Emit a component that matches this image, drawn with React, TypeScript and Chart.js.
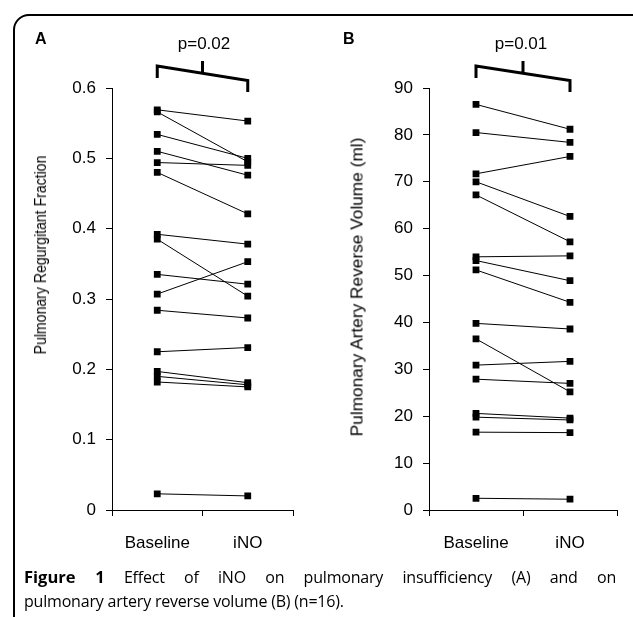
import React, { useEffect, useRef } from "react";
import { Chart, registerables } from "chart.js";

Chart.register(...registerables);

const categories = ["Baseline", "iNO"];

const fractionBaseline = [0.569, 0.566, 0.534, 0.51, 0.494, 0.48, 0.392, 0.385, 0.335, 0.307, 0.284, 0.225, 0.197, 0.19, 0.182, 0.023];
const fractionINO = [0.553, 0.495, 0.5, 0.476, 0.49, 0.421, 0.378, 0.304, 0.321, 0.353, 0.273, 0.231, 0.181, 0.178, 0.175, 0.02];
const fractionTicks = [0, 0.1, 0.2, 0.3, 0.4, 0.5, 0.6];
const fractionTickLabels = ["0", "0.1", "0.2", "0.3", "0.4", "0.5", "0.6"];

const volumeBaseline = [86.5, 80.5, 71.7, 70.0, 67.2, 54.0, 53.2, 51.2, 39.8, 36.5, 30.9, 27.9, 20.6, 19.8, 16.6, 2.5];
const volumeINO = [81.2, 78.4, 75.4, 62.6, 57.2, 54.2, 48.9, 44.3, 38.6, 25.2, 31.7, 27.0, 19.6, 19.2, 16.5, 2.3];
const volumeTicks = [0, 10, 20, 30, 40, 50, 60, 70, 80, 90];
const volumeTickLabels = ["0", "10", "20", "30", "40", "50", "60", "70", "80", "90"];

const pValueA = "p=0.02";
const pValueB = "p=0.01";

const FONT = "'Liberation Sans', Arial, sans-serif";
const CAPTION_FONT = "'Open Sans', 'Noto Sans', sans-serif";

const bracketPlugin = {
  id: "bracket",
  afterDraw(chart: any) {
    const { ctx, chartArea } = chart;
    const xs = chart.scales.x;
    const x0 = xs.getPixelForValue(0);
    const x1 = xs.getPixelForValue(1);
    const top = chartArea.top;
    const yL = top - 22;
    const yR = top - 7.5;
    const xm = (x0 + x1) / 2;
    const ym = yL + ((yR - yL) * (xm - x0)) / (x1 - x0);
    ctx.save();
    ctx.strokeStyle = "#000";
    ctx.lineWidth = 3;
    ctx.lineJoin = "miter";
    ctx.beginPath();
    ctx.moveTo(x0, top - 10);
    ctx.lineTo(x0, yL);
    ctx.lineTo(x1, yR);
    ctx.lineTo(x1, top + 4);
    ctx.moveTo(xm, top - 27);
    ctx.lineTo(xm, ym);
    ctx.stroke();
    ctx.restore();
  },
};

type Props = {
  baseline: number[];
  ino: number[];
  ticks: number[];
  tickLabels: string[];
  left: number;
  top: number;
  width: number;
  height: number;
  axisWidth: number;
  padTop: number;
  padRight: number;
  xAxisHeight: number;
};

function PairedChart(props: Props) {
  const ref = useRef<HTMLCanvasElement>(null);
  useEffect(() => {
    const { baseline, ino, ticks, tickLabels, axisWidth, padTop, padRight, xAxisHeight } = props;
    const datasets = baseline.map((b, i) => ({
      data: [b, ino[i]],
      borderColor: "#000",
      borderWidth: 1,
      pointStyle: "rect",
      pointRadius: 4.8,
      pointBackgroundColor: "#000",
      pointBorderColor: "#000",
      pointBorderWidth: 0,
      fill: false,
      tension: 0,
    }));
    const chart = new Chart(ref.current as HTMLCanvasElement, {
      type: "line",
      data: { labels: categories, datasets: datasets as any },
      options: {
        animation: false,
        responsive: false,
        events: [],
        layout: { padding: { top: padTop, right: padRight, left: 0, bottom: 0 } },
        plugins: { legend: { display: false }, tooltip: { enabled: false } },
        scales: {
          x: {
            type: "category",
            offset: true,
            grid: { offset: true, drawOnChartArea: false, color: "#000", tickLength: 6, lineWidth: 1 },
            border: { color: "#000", width: 1 },
            ticks: { color: "#000", font: { family: FONT, size: 17 }, padding: 17, maxRotation: 0, autoSkip: false },
            afterFit: (s: any) => {
              s.height = xAxisHeight;
            },
          },
          y: {
            min: ticks[0],
            max: ticks[ticks.length - 1],
            afterBuildTicks: (s: any) => {
              s.ticks = ticks.map((v) => ({ value: v }));
            },
            grid: { drawOnChartArea: false, color: "#000", tickLength: 6, lineWidth: 1 },
            border: { color: "#000", width: 1 },
            ticks: {
              color: "#000",
              font: { family: FONT, size: 17 },
              padding: 10,
              autoSkip: false,
              callback: (_v: any, i: number) => tickLabels[i],
            },
            afterFit: (s: any) => {
              s.width = axisWidth;
            },
          },
        },
      } as any,
      plugins: [bracketPlugin],
    });
    return () => chart.destroy();
  }, []);
  return (
    <canvas
      ref={ref}
      width={props.width}
      height={props.height}
      style={{ position: "absolute", left: props.left, top: props.top, width: props.width, height: props.height }}
    />
  );
}

const abs = (s: React.CSSProperties): React.CSSProperties => ({ position: "absolute", whiteSpace: "nowrap", ...s });

export default function App() {
  return (
    <div style={{ position: "fixed", left: 0, top: 0, width: 633, height: 617, overflow: "hidden", background: "#fff" }}>
      <div
        style={{
          position: "absolute",
          left: 13,
          top: 14,
          width: 640,
          height: 700,
          border: "2px solid #000",
          borderRadius: 16,
          boxSizing: "border-box",
        }}
      />
      <PairedChart
        baseline={fractionBaseline}
        ino={fractionINO}
        ticks={fractionTicks}
        tickLabels={fractionTickLabels}
        left={0}
        top={30}
        width={330}
        height={540}
        axisWidth={112}
        padTop={58}
        padRight={37}
        xAxisHeight={60}
      />
      <PairedChart
        baseline={volumeBaseline}
        ino={volumeINO}
        ticks={volumeTicks}
        tickLabels={volumeTickLabels}
        left={330}
        top={30}
        width={303}
        height={540}
        axisWidth={99}
        padTop={58}
        padRight={16}
        xAxisHeight={60}
      />
      <div style={abs({ left: 35, top: 31, fontFamily: FONT, fontWeight: "bold", fontSize: 16, lineHeight: "16px" })}>A</div>
      <div style={abs({ left: 343, top: 31, fontFamily: FONT, fontWeight: "bold", fontSize: 16, lineHeight: "16px" })}>B</div>
      <div style={abs({ left: 204, top: 34.5, transform: "translateX(-50%)", fontFamily: FONT, fontSize: 17, lineHeight: "17px" })}>
        {pValueA}
      </div>
      <div style={abs({ left: 521, top: 34.5, transform: "translateX(-50%)", fontFamily: FONT, fontSize: 17, lineHeight: "17px" })}>
        {pValueB}
      </div>
      <div
        style={abs({
          left: 41,
          top: 255,
          transform: "translate(-50%, -50%) rotate(-90deg) scaleX(0.88)",
          fontFamily: FONT,
          fontSize: 16,
          lineHeight: "16px",
        })}
      >
        Pulmonary Regurgitant Fraction
      </div>
      <div
        style={abs({
          left: 357,
          top: 287,
          transform: "translate(-50%, -50%) rotate(-90deg)",
          fontFamily: FONT,
          fontSize: 17.3,
          lineHeight: "17px",
        })}
      >
        Pulmonary Artery Reverse Volume (ml)
      </div>
      <div
        style={abs({
          left: 24,
          top: 565,
          width: 592,
          fontFamily: CAPTION_FONT,
          fontSize: 16,
          letterSpacing: -0.2,
          lineHeight: "24px",
          textAlign: "justify",
          textAlignLast: "justify",
          whiteSpace: "normal",
        })}
      >
        <b style={{ fontSize: 16.5, letterSpacing: 0 }}>Figure 1</b> Effect of iNO on pulmonary insufficiency (A) and on
      </div>
      <div style={abs({ left: 24, top: 589, fontFamily: CAPTION_FONT, fontSize: 16, letterSpacing: -0.2, lineHeight: "24px" })}>
        pulmonary artery reverse volume (B) (n=16).
      </div>
    </div>
  );
}
